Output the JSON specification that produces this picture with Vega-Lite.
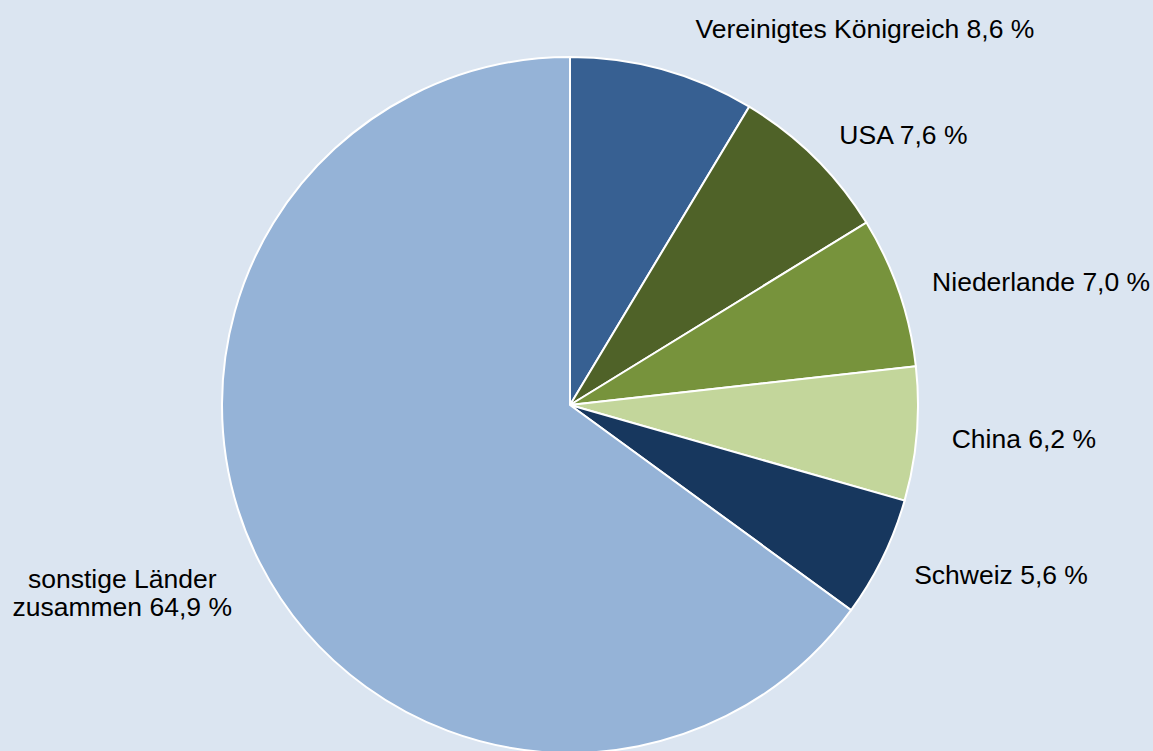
{
  "$schema": "https://vega.github.io/schema/vega-lite/v6.json",
  "width": 1140,
  "height": 692,
  "autosize": "none",
  "padding": {"left": 0, "top": 59, "right": 13, "bottom": 0},
  "background": "#dbe5f1",
  "view": {"stroke": null},
  "data": {
    "values": [
      {"rank": 1, "country": "Vereinigtes Königreich", "share": 8.6, "label": "Vereinigtes Königreich 8,6 %"},
      {"rank": 2, "country": "USA", "share": 7.6, "label": "USA 7,6 %"},
      {"rank": 3, "country": "Niederlande", "share": 7.0, "label": "Niederlande 7,0 %"},
      {"rank": 4, "country": "China", "share": 6.2, "label": "China 6,2 %"},
      {"rank": 5, "country": "Schweiz", "share": 5.6, "label": "Schweiz 5,6 %"},
      {"rank": 6, "country": "sonstige Länder zusammen", "share": 64.9, "label": "sonstige Länder\nzusammen 64,9 %"}
    ]
  },
  "encoding": {
    "theta": {"field": "share", "type": "quantitative", "stack": true},
    "order": {"field": "rank", "type": "quantitative"}
  },
  "layer": [
    {
      "mark": {"type": "arc", "outerRadius": 348, "stroke": "#ffffff", "strokeWidth": 2},
      "encoding": {
        "color": {
          "field": "country",
          "type": "nominal",
          "scale": {
            "domain": ["Vereinigtes Königreich", "USA", "Niederlande", "China", "Schweiz", "sonstige Länder zusammen"],
            "range": ["#376092", "#4f6228", "#77933c", "#c3d69b", "#17375e", "#95b3d7"]
          },
          "legend": null
        }
      }
    },
    {
      "mark": {"type": "text", "radius": 380, "align": "left", "baseline": "middle", "font": "Liberation Sans", "fontSize": 26.5, "color": "#000000", "dx": 24, "dy": -9},
      "encoding": {
        "text": {"condition": {"test": "datum.rank == 1", "field": "label"}, "value": ""}
      }
    },
    {
      "mark": {"type": "text", "radius": 383, "align": "left", "baseline": "middle", "font": "Liberation Sans", "fontSize": 26.5, "color": "#000000", "dy": 3},
      "encoding": {
        "text": {"condition": {"test": "datum.rank >= 2 && datum.rank <= 5", "field": "label"}, "value": ""}
      }
    },
    {
      "mark": {"type": "text", "radius": 380, "align": "center", "baseline": "middle", "font": "Liberation Sans", "fontSize": 26.5, "lineHeight": 28, "lineBreak": "\n", "color": "#000000", "dx": -109, "dy": 3},
      "encoding": {
        "text": {"condition": {"test": "datum.rank == 6", "field": "label"}, "value": ""}
      }
    }
  ]
}
